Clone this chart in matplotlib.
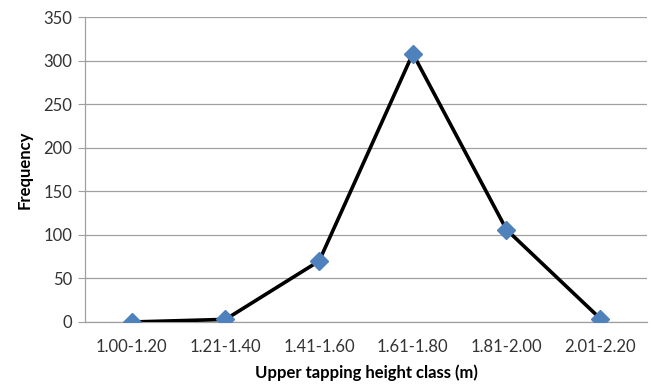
import numpy as np
import matplotlib.pyplot as plt

classes = ["1.00-1.20", "1.21-1.40", "1.41-1.60", "1.61-1.80", "1.81-2.00", "2.01-2.20"]
frequency = [0, 3, 70, 308, 106, 4]

plt.rcParams["font.family"] = ["Lato", "DejaVu Sans"]

fig = plt.figure(figsize=(6.54, 3.87), dpi=100)
ax = fig.add_axes([85 / 654, 1 - 322 / 387, (647 - 85) / 654, (322 - 17) / 387])

x = np.arange(len(classes))
ax.plot(x, frequency, color="black", lw=2.6, zorder=3,
        marker="D", markersize=9, markerfacecolor="#4F81BD",
        markeredgecolor="#4F81BD")

ax.set_xlim(-0.5, len(classes) - 0.5)
ax.set_ylim(0, 350)
ax.set_yticks(np.arange(0, 351, 50))
ax.set_xticks(x)
ax.set_xticklabels(classes)
ax.yaxis.grid(True, color="#A0A0A0", lw=0.9)
ax.set_axisbelow(True)

for side in ["top", "right"]:
    ax.spines[side].set_visible(False)
for side in ["left", "bottom"]:
    ax.spines[side].set_color("#A0A0A0")
    ax.spines[side].set_linewidth(0.9)

ax.tick_params(axis="y", length=5, color="#A0A0A0", labelsize=12, labelcolor="#333333", pad=4)
ax.tick_params(axis="x", length=0, labelsize=12, labelcolor="#333333", pad=12)

ax.set_xlabel("Upper tapping height class (m)", fontsize=12, fontweight="bold", labelpad=7)
ax.set_ylabel("Frequency", fontsize=12, fontweight="bold", labelpad=8)

fig.savefig("out.png", dpi=100)
